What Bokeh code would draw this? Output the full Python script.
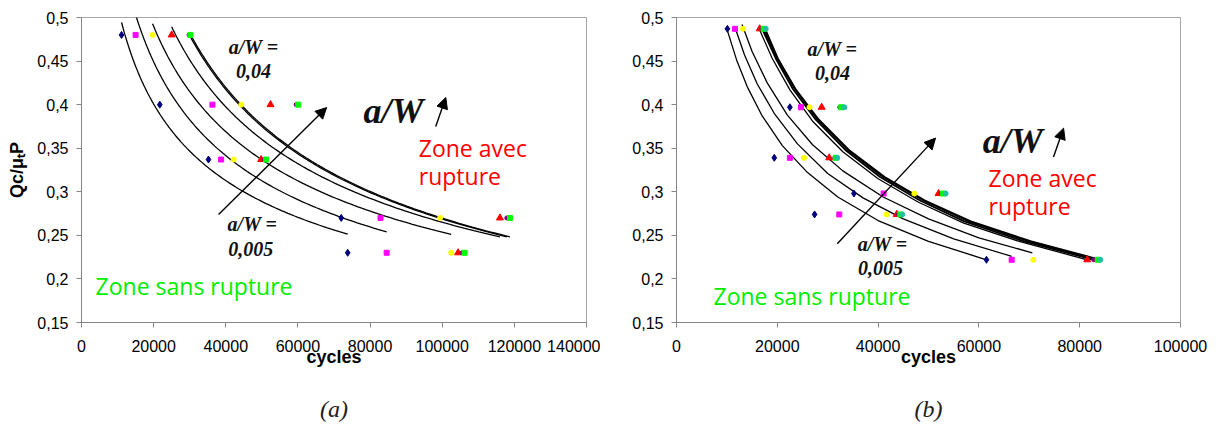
import numpy as np
from bokeh.plotting import figure
from bokeh.layouts import row
from bokeh.models import (Range1d, FixedTicker, CustomJSTickFormatter, BasicTickFormatter,
                          Label, Arrow, NormalHead, Title)
from bokeh.embed import file_html
from bokeh.resources import INLINE

# ---------------- panel (a) ----------------
a_q = [0.48, 0.40, 0.337, 0.27, 0.23]
a_navy = [11100, 21700, 35200, 72000, 73800]
a_magenta = [15000, 36300, 38700, 82900, 84600]
a_yellow = [19700, 44300, 42200, 99400, 102500]
a_red = [25000, 52400, 49800, 116000, 104400]
a_purple = [29800, 59500, 50700, 117900, 105500]
a_green = [30200, 60100, 51200, 118800, 106200]

# ---------------- panel (b) ----------------
b_q = [0.487, 0.397, 0.339, 0.298, 0.274, 0.222]
b_navy = [10100, 22500, 19400, 35200, 27400, 61500]
b_magenta = [11600, 24700, 22500, 41100, 32300, 66500]
b_yellow = [13200, 26400, 25300, 47200, 41700, 70800]
b_red = [16500, 28800, 30300, 52000, 43700, 81500]
b_purple = [17000, 32400, 31400, 52600, 44000, 82800]
b_green = [17300, 32700, 31600, 52900, 44400, 83600]
b_teal = [17700, 33300, 31900, 53400, 44800, 84100]

# curves of panel (b)
b_c1_x = [10100, 12000, 14000, 17000, 21000, 26000, 32000, 40000, 50000, 61500]
b_c1_y = [0.485, 0.450, 0.421, 0.387, 0.353, 0.322, 0.294, 0.267, 0.243, 0.222]
b_c2_x = [11700, 13500, 16000, 19500, 24000, 30000, 37000, 45000, 55000, 66500]
b_c2_y = [0.487, 0.457, 0.424, 0.389, 0.355, 0.321, 0.293, 0.269, 0.246, 0.226]
b_c3_x = [13000, 15000, 18000, 22000, 27000, 33000, 41000, 50000, 60000, 70600]
b_c3_y = [0.492, 0.461, 0.425, 0.388, 0.354, 0.324, 0.294, 0.269, 0.247, 0.230]
b_c4_x = [16400, 19000, 22500, 27000, 33000, 40000, 48000, 57000, 68000, 81500]
b_c4_y = [0.487, 0.453, 0.417, 0.381, 0.346, 0.315, 0.288, 0.264, 0.243, 0.222]
b_c5_x = [16900, 19700, 23100, 27600, 33500, 40400, 48300, 57100, 69000, 82800]
b_c6_x = [17200, 20000, 23500, 28000, 34000, 41000, 49000, 58000, 70000, 83600]
b_c7_x = [17500, 20100, 23600, 28200, 34200, 41300, 49300, 58400, 70400, 84100]
b_c567_y = [0.488, 0.453, 0.418, 0.383, 0.348, 0.317, 0.290, 0.266, 0.243, 0.222]

y_ticks = [0.15, 0.2, 0.25, 0.3, 0.35, 0.4, 0.45, 0.5]
a_x_ticks = [0, 20000, 40000, 60000, 80000, 100000, 120000, 140000]
b_x_ticks = [0, 20000, 40000, 60000, 80000, 100000]

STYLES = {
    "navy": ("diamond", "#000080", 7),
    "magenta": ("square", "#FF00FF", 5),
    "yellow": ("circle", "#FFFF00", 5),
    "red": ("triangle", "#FF0000", 7),
    "purple": ("circle", "#800080", 4),
    "green": ("square", "#00FF00", 5),
    "teal": ("circle", "#20C0A0", 5),
}

SERIF = "Liberation Serif"
SANS = "Liberation Sans"
ZONE = "Open Sans"


def power_trend(xs, ys):
    # Excel-style power trendline computed from a series
    b, c = np.polyfit(np.log(xs), np.log(ys), 1)
    xx = np.geomspace(min(xs), max(xs), 120)
    return xx, np.exp(c) * xx ** b


def make_fig(width, xmax, xticks, mbl, mbr, mbt, mbb, ylabel, caption):
    p = figure(width=width, height=425, x_range=Range1d(0, xmax), y_range=Range1d(0.15, 0.5),
               output_backend="svg", toolbar_location=None,
               min_border_left=mbl, min_border_right=mbr, min_border_top=mbt, min_border_bottom=mbb)
    p.xgrid.visible = False
    p.ygrid.visible = False
    p.outline_line_color = "#a6a6a6"
    p.outline_line_width = 1
    p.background_fill_color = "white"
    p.border_fill_color = "white"
    p.xaxis.ticker = FixedTicker(ticks=xticks)
    p.yaxis.ticker = FixedTicker(ticks=y_ticks)
    p.xaxis.formatter = BasicTickFormatter(use_scientific=False)
    p.yaxis.formatter = CustomJSTickFormatter(
        code="return tick.toFixed(2).replace(/0+$/, '').replace('.', ',');")
    for ax in (p.xaxis[0], p.yaxis[0]):
        ax.axis_line_color = "#868686"
        ax.major_tick_line_color = "#868686"
        ax.major_tick_out = 5
        ax.major_tick_in = 0
        ax.minor_tick_line_color = None
        ax.major_label_text_font = SANS
        ax.major_label_text_font_size = "16px"
        ax.major_label_text_color = "black"
        ax.axis_label_text_font = SANS
        ax.axis_label_text_font_style = "bold"
        ax.axis_label_text_font_size = "18px"
        ax.axis_label_text_color = "black"
    p.xaxis.major_label_standoff = 12
    p.yaxis.major_label_standoff = 8
    p.xaxis.axis_label = "cycles"
    p.xaxis.axis_label_standoff = -8
    if ylabel:
        p.yaxis.axis_label = ylabel
        p.yaxis.axis_label_standoff = 7
    # spacer between the axis and the caption
    p.add_layout(Title(text=" ", text_font_size="2px", standoff=18), "below")
    p.add_layout(Title(text=caption, align="center", text_font=SERIF, text_font_style="italic",
                       text_font_size="24px", text_color="#222222", standoff=4), "below")
    return p


def scatter_series(p, name, xs, ys):
    marker, color, size = STYLES[name]
    p.scatter(xs, ys, marker=marker, size=size, fill_color=color, line_color=color)


def add_texts(p, items):
    for text, x, y, align, size, style, color, font in items:
        p.add_layout(Label(x=x, y=y, text=text, text_align=align, text_baseline="middle",
                           text_font=font, text_font_size=size, text_font_style=style,
                           text_color=color))


def add_arrow(p, x0, y0, x1, y1):
    p.add_layout(Arrow(end=NormalHead(size=11, fill_color="black", line_color="black"),
                       x_start=x0, y_start=y0, x_end=x1, y_end=y1,
                       line_color="black", line_width=1.4))


# ---------------- figure (a) ----------------
p1 = make_fig(600, 140000, a_x_ticks, 81, 14, 17, 103, "Qc/μₜP", "(a)")
a_series = [("navy", a_navy), ("magenta", a_magenta), ("yellow", a_yellow),
            ("red", a_red), ("purple", a_purple), ("green", a_green)]
for name, xs in a_series:
    tx, ty = power_trend(xs, a_q)
    p1.line(tx, ty, line_color="black", line_width=1.3)
for name, xs in a_series:
    scatter_series(p1, name, xs, a_q)

add_texts(p1, [
    ("a/W =", 47700, 0.4656, "center", "20px", "bold italic", "#111111", SERIF),
    ("0,04", 47700, 0.439, "center", "20px", "bold italic", "#111111", SERIF),
    ("a/W", 86500, 0.393, "center", "36px", "bold italic", "#111111", SERIF),
    ("a/W =", 47400, 0.2635, "center", "20px", "bold italic", "#111111", SERIF),
    ("0,005", 46900, 0.2348, "center", "20px", "bold italic", "#111111", SERIF),
    ("Zone avec", 93500, 0.3507, "left", "23px", "normal", "#FF0000", ZONE),
    ("rupture", 93500, 0.3186, "left", "23px", "normal", "#FF0000", ZONE),
    ("Zone sans rupture", 3900, 0.1923, "left", "23px", "normal", "#00EE00", ZONE),
])
add_arrow(p1, 38000, 0.2738, 67960, 0.3967)
add_arrow(p1, 98200, 0.3749, 101000, 0.4082)

# ---------------- figure (b) ----------------
p2 = make_fig(616, 100000, b_x_ticks, 76, 36, 16, 103, None, "(b)")
for cx, cy, w in [(b_c1_x, b_c1_y, 1.3), (b_c2_x, b_c2_y, 1.3), (b_c3_x, b_c3_y, 1.3),
                  (b_c4_x, b_c4_y, 1.3), (b_c5_x, b_c567_y, 1.8), (b_c6_x, b_c567_y, 1.8),
                  (b_c7_x, b_c567_y, 1.8)]:
    p2.line(cx, cy, line_color="black", line_width=w)
b_series = [("navy", b_navy), ("magenta", b_magenta), ("yellow", b_yellow), ("red", b_red),
            ("purple", b_purple), ("green", b_green), ("teal", b_teal)]
for name, xs in b_series:
    scatter_series(p2, name, xs, b_q)

add_texts(p2, [
    ("a/W =", 30950, 0.4634, "center", "20px", "bold italic", "#111111", SERIF),
    ("0,04", 30950, 0.436, "center", "20px", "bold italic", "#111111", SERIF),
    ("a/W", 66700, 0.3581, "center", "36px", "bold italic", "#111111", SERIF),
    ("a/W =", 40900, 0.2403, "center", "20px", "bold italic", "#111111", SERIF),
    ("0,005", 40500, 0.2128, "center", "20px", "bold italic", "#111111", SERIF),
    ("Zone avec", 61900, 0.3158, "left", "23px", "normal", "#FF0000", ZONE),
    ("rupture", 61900, 0.2838, "left", "23px", "normal", "#FF0000", ZONE),
    ("Zone sans rupture", 7340, 0.1808, "left", "23px", "normal", "#00EE00", ZONE),
])
add_arrow(p2, 31900, 0.2403, 51400, 0.3616)
add_arrow(p2, 74800, 0.3398, 76800, 0.373)

layout = row(p1, p2)
open("out.html", "w").write(file_html(layout, INLINE))
